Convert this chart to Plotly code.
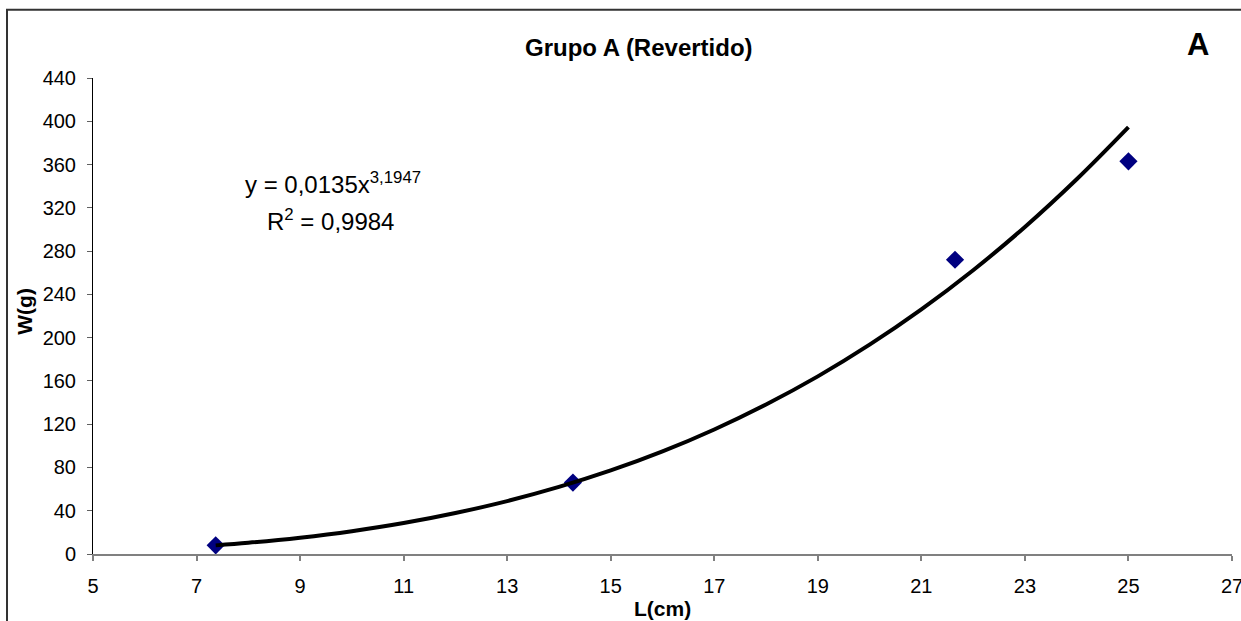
import plotly.graph_objects as go

# Observed data points (L in cm, W in g)
L_obs = [7.37, 14.27, 21.65, 25.0]
W_obs = [8, 66, 272, 363]

# Trendline points
L_fit = [7.37, 8, 9, 10, 11, 12, 13, 14, 15, 16, 17, 18, 19, 20, 21, 22, 23, 24, 25]
W_fit = [7.97, 10.36, 15.1, 21.1, 28.6, 37.9, 48.9, 62.0, 77.2, 94.8, 115.1, 138.2,
         164.2, 193.5, 226.1, 262.3, 302.3, 346.4, 394.6]

x_ticks = [5, 7, 9, 11, 13, 15, 17, 19, 21, 23, 25, 27]
y_ticks = [0, 40, 80, 120, 160, 200, 240, 280, 320, 360, 400, 440]

FONT = "Liberation Sans, Arial, sans-serif"

fig = go.Figure()
fig.add_trace(go.Scatter(x=L_obs, y=W_obs, mode="markers",
                         marker=dict(symbol="diamond", size=14, color="#000080",
                                     line=dict(width=0)),
                         showlegend=False, cliponaxis=False))
fig.add_trace(go.Scatter(x=L_fit, y=W_fit, mode="lines", line=dict(color="black", width=4, shape="spline"),
                         showlegend=False))

fig.update_layout(
    width=1241, height=621,
    margin=dict(l=93, r=9, t=78, b=67),
    paper_bgcolor="white", plot_bgcolor="white",
    font=dict(family=FONT, size=20, color="black"),
    xaxis=dict(range=[5, 27], tickvals=x_ticks, ticktext=[str(v) for v in x_ticks],
               showgrid=False, zeroline=False, showline=True, linecolor="#808080", linewidth=2,
               ticks="outside", ticklen=5, tickcolor="#808080", tickwidth=1.5,
               ticklabelstandoff=8, ticklabeloverflow="allow", automargin=False,
               tickfont=dict(family=FONT, size=20, color="black")),
    yaxis=dict(range=[0, 440], tickvals=y_ticks, ticktext=[str(v) for v in y_ticks],
               showgrid=False, zeroline=False, showline=True, linecolor="black", linewidth=1,
               ticks="outside", ticklen=5, tickcolor="#606060", tickwidth=1,
               ticklabelstandoff=7, ticklabeloverflow="allow", automargin=False,
               tickfont=dict(family=FONT, size=20, color="black")),
    shapes=[dict(type="rect", xref="paper", yref="paper",
                 x0=-0.0755, y0=-0.3, x1=1.2, y1=1.1435,
                 line=dict(color="#333333", width=2), layer="below")],
    annotations=[
        dict(text="<b>Grupo A (Revertido)</b>", xref="paper", yref="paper", x=0.4794, y=1.0637,
             xanchor="center", yanchor="middle", showarrow=False, font=dict(family=FONT, size=24)),
        dict(text="<b>A</b>", xref="paper", yref="paper", x=0.9701, y=1.071,
             xanchor="center", yanchor="middle", showarrow=False, font=dict(family=FONT, size=31)),
        dict(text="y = 0,0135x<sup>3,1947</sup>", xref="paper", yref="paper", x=0.1317, y=0.779,
             xanchor="left", yanchor="middle", showarrow=False, font=dict(family=FONT, size=24)),
        dict(text="R<sup>2</sup> = 0,9984", xref="paper", yref="paper", x=0.151, y=0.7023,
             xanchor="left", yanchor="middle", showarrow=False, font=dict(family=FONT, size=24)),
        dict(text="<b>L(cm)</b>", xref="paper", yref="paper", x=0.5004, y=-0.115,
             xanchor="center", yanchor="middle", showarrow=False, font=dict(family=FONT, size=21)),
        dict(text="<b>W(g)</b>", xref="paper", yref="paper", x=-0.0597, y=0.509, textangle=-90,
             xanchor="center", yanchor="middle", showarrow=False, font=dict(family=FONT, size=21)),
    ],
)

fig.write_html("out.html")
